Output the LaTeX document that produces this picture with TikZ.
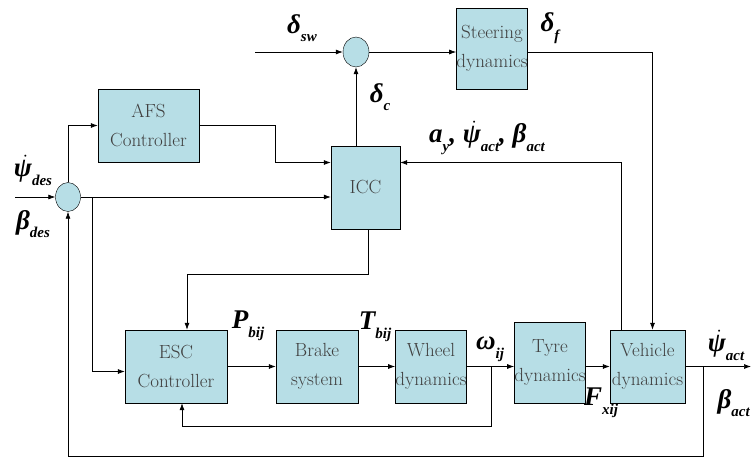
\documentclass[tikz,border=0pt]{standalone}
\usepackage{fontspec}
\usetikzlibrary{arrows.meta,positioning,shapes.geometric}

\newfontfamily\lblfont{Liberation Serif}
\definecolor{boxfill}{RGB}{183,222,230}
% bold italic symbol with lowered subscript
\newcommand\vsub[2]{#1\raisebox{-0.32em}{\fontsize{15}{15}\selectfont #2}}
\newcommand\psidot{$\dot{\hbox{ψ\kern5pt}}$\kern-5pt}

\begin{document}
\begin{tikzpicture}[x=1pt,y=-1pt,
  block/.style={draw, fill=boxfill, inner sep=0pt, align=center,
                font=\fontsize{19}{29}\selectfont, text=black!75},
  sumpt/.style={draw, ellipse, fill=boxfill, inner sep=0pt,
                minimum width=25pt, minimum height=29pt},
  sig/.style={-{Latex[length=7pt,width=5pt]}, line width=0.7pt},
  lbl/.style={font=\lblfont\bfseries\itshape\fontsize{27}{30}\selectfont, inner sep=0pt},
]
\useasboundingbox (0,0) rectangle (751,458);

% blocks
\node[block, minimum width=101pt, minimum height=73pt] (afs) at (148.5,125.5) {AFS\\Controller};
\node[block, minimum width=69pt, minimum height=83pt] (icc) at (365.5,187.5) {ICC};
\node[block, minimum width=70pt, minimum height=81pt] (steer) at (492,48.5) {Steering\\dynamics};
\node[block, minimum width=102pt, minimum height=73pt] (esc) at (176,366.5) {ESC\\Controller};
\node[block, minimum width=82pt, minimum height=73pt] (brake) at (317,366.5) {Brake\\system};
\node[block, minimum width=70pt, minimum height=73pt] (wheel) at (431,366.5) {Wheel\\dynamics};
\node[block, minimum width=70pt, minimum height=81pt] (tyre) at (550,362.5) {Tyre\\dynamics};
\node[block, minimum width=75pt, minimum height=73pt] (veh) at (647.5,366.5) {Vehicle\\dynamics};

% summing points
\node[sumpt] (sumL) at (68,197) {};
\node[sumpt, minimum width=26pt, minimum height=30pt] (sumT) at (356,52) {};

% free ends and branch points
\coordinate (swin) at (255,52);
\coordinate (psin) at (15,197);
\coordinate (brL) at (92,197);
\coordinate (brW) at (491,366.5);
\coordinate (brV) at (703,366.5);
\coordinate (out) at (751,366.5);

% signals
\draw[sig] (swin) -- (sumT.west);
\draw[sig] (sumT.east) -- (sumT.east -| steer.west);
\draw[sig] (sumT.east -| steer.east) -| ([xshift=5pt]veh.north);
\draw[sig] (sumT |- icc.north) -- (sumT.south);
\draw[sig] ([xshift=-26pt]veh.north) |- ([yshift=25pt]icc.east);
\draw[sig] ([xshift=3pt]icc.south) -- ++(0,45) -| ([xshift=11pt]esc.north);

\draw[sig] (psin) -- (sumL.west);
\draw[sig] (sumL.north) |- (afs.west);
\draw[sig] (sumL.east) -- (sumL.east -| icc.west);
\draw[sig] (afs.east) -- ++(76,0) |- ([yshift=25pt]icc.west);
\draw[sig] (brL) |- ([yshift=-5pt]esc.west);

\draw[sig] (esc.east) -- (brake.west);
\draw[sig] (brake.east) -- (wheel.west);
\draw[sig] (wheel.east) -- (wheel.east -| tyre.west);
\draw[sig] (veh.west -| tyre.east) -- (veh.west);
\draw[sig] (veh.east) -- (out);

\draw[sig] (brW) -- ++(0,60) -| ([xshift=6pt]esc.south);
\draw[sig] (brV) -- ++(0,89.5) -| (sumL.south);

% labels
\node[lbl] (lsw) at (302,28) {\vsub{δ}{sw}};
\node[lbl] (lf) at (550,28) {\vsub{δ}{f}};
\node[lbl] (lc) at (380,97) {\vsub{δ}{c}};
\node[lbl] (lfb) at (487,138) {\vsub{a}{y}, \vsub{\psidot}{act}, \vsub{β}{act}};
\node[lbl] (lpdes) at (33,170) {\vsub{\psidot}{des}};
\node[lbl] (lbdes) at (33,224) {\vsub{β}{des}};
\node[lbl] (lp) at (248,326) {\vsub{P}{bij}};
\node[lbl] (lt) at (375,327) {\vsub{T}{bij}};
\node[lbl] (lw) at (490,349) {\vsub{ω}{ij}};
\node[lbl] (lfx) at (601,403) {\vsub{F}{xij}};
\node[lbl] (lpact) at (726,345) {\vsub{\psidot}{act}};
\node[lbl, anchor=east] (lbact) at (750,403) {\vsub{β}{act}};

\end{tikzpicture}
\end{document}
